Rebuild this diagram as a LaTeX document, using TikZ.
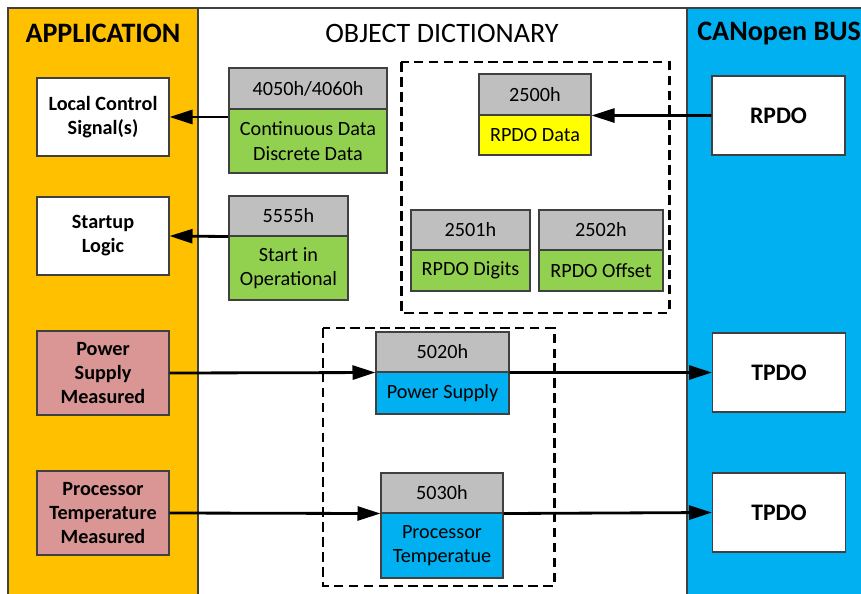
\documentclass[tikz,border=0pt]{standalone}
\usepackage{fontspec}
\setmainfont{Carlito}
\usepackage{xcolor}
\usetikzlibrary{arrows.meta,positioning}

\definecolor{appcol}{HTML}{FFC000}
\definecolor{buscol}{HTML}{00B0F0}
\definecolor{greencol}{HTML}{92D050}
\definecolor{greycol}{HTML}{BFBFBF}
\definecolor{yellowcol}{HTML}{FFFF00}
\definecolor{pinkcol}{HTML}{D99694}
\definecolor{edgecol}{HTML}{404040}

\begin{document}
\begin{tikzpicture}[
    x=0.02cm, y=-0.02cm,
    idx/.style={rectangle, draw=edgecol, line width=0.6pt, fill=greycol, inner sep=1pt, font=\fontsize{11.5}{14}\selectfont},
    entry/.style={rectangle, draw=edgecol, line width=0.6pt, inner sep=1pt, align=center, font=\fontsize{11.5}{14}\selectfont},
    appbox/.style={rectangle, draw=edgecol, line width=0.6pt, minimum width=2.64cm, align=center, font=\bfseries\fontsize{11.5}{13.6}\selectfont},
    pdo/.style={rectangle, draw=edgecol, line width=0.6pt, fill=white, minimum width=2.66cm, minimum height=1.58cm, font=\bfseries\fontsize{13.5}{16}\selectfont},
    title/.style={font=\fontsize{16}{19}\selectfont},
    group/.style={draw, line width=1.7pt, dash pattern=on 5.5pt off 3pt},
    arr/.style={-{Triangle[length=4.6mm,width=2.8mm]}, line width=1.6pt}
]
    \clip (0,0) rectangle (861,594);

    % Panels
    \fill[appcol] (8,8) rectangle (198,600);
    \fill[buscol] (687,8) rectangle (870,600);
    \draw[edgecol, line width=0.6pt] (8,600) -- (8,8) -- (870,8);
    \draw[edgecol, line width=0.6pt] (198,8) -- (198,600);
    \draw[edgecol, line width=0.6pt] (687,8) -- (687,600);

    % Titles
    \node[title, font=\bfseries\fontsize{16}{19}\selectfont] (tapp) at (103,33) {APPLICATION};
    \node[title] (tdict) at (442,33) {OBJECT DICTIONARY};
    \node[title, font=\bfseries\fontsize{16}{19}\selectfont, anchor=west, inner sep=0pt] (tbus) at (697,33) {CANopen BUS};

    % Groups (dashed)
    \draw[group] (401,62) rectangle (669,313);
    \draw[group] (323,328) rectangle (554,586);

    % Application
    \node[appbox, fill=white, minimum height=1.56cm] (appsig) at (103,117) {Local Control\\Signal(s)};
    \node[appbox, fill=white, minimum height=1.56cm] (appstart) at (103,236) {Startup\\Logic};
    \node[appbox, fill=pinkcol, minimum height=1.68cm] (apppow) at (103,373) {Power\\Supply\\Measured};
    \node[appbox, fill=pinkcol, minimum height=1.68cm] (apptemp) at (103,513) {Processor\\Temperature\\Measured};

    % Object dictionary entries
    \node[idx, minimum width=3.16cm, minimum height=0.82cm] (h4050) at (308,88.5) {4050h/4060h};
    \node[entry, fill=greencol, minimum width=3.16cm, minimum height=1.28cm] (d4050) at (308,141) {Continuous Data\\Discrete Data};

    \node[idx, minimum width=2.38cm, minimum height=0.8cm] (h5555) at (288.5,216) {5555h};
    \node[entry, fill=greencol, minimum width=2.38cm, minimum height=1.28cm] (d5555) at (288.5,268) {Start in\\Operational};

    \node[idx, minimum width=2.24cm, minimum height=0.82cm] (h2500) at (535,94.5) {2500h};
    \node[entry, fill=yellowcol, minimum width=2.24cm, minimum height=0.8cm] (d2500) at (535,135) {RPDO Data};

    \node[idx, minimum width=2.38cm, minimum height=0.8cm] (h2501) at (470.5,230) {2501h};
    \node[entry, fill=greencol, minimum width=2.38cm, minimum height=0.82cm] (d2501) at (470.5,270.5) {RPDO Digits};

    \node[idx, minimum width=2.48cm, minimum height=0.8cm] (h2502) at (601,230) {2502h};
    \node[entry, fill=greencol, minimum width=2.48cm, minimum height=0.82cm] (d2502) at (601,270.5) {RPDO Offset};

    \node[idx, minimum width=2.66cm, minimum height=0.8cm] (h5020) at (442.5,352) {5020h};
    \node[entry, fill=buscol, minimum width=2.66cm, minimum height=0.84cm] (d5020) at (442.5,393) {Power Supply};

    \node[idx, minimum width=2.44cm, minimum height=0.8cm] (h5030) at (442,493) {5030h};
    \node[entry, fill=buscol, minimum width=2.44cm, minimum height=1.3cm] (d5030) at (442,545.5) {Processor\\Temperatue};

    % CANopen bus
    \node[pdo] (rpdo) at (778.5,115.5) {RPDO};
    \node[pdo] (tpdo1) at (779,372.5) {TPDO};
    \node[pdo] (tpdo2) at (779,512.5) {TPDO};

    % Arrows
    \draw[arr] (d4050.west |- appsig.east) -- (appsig.east);
    \draw[arr] (h5555.south west) -- (appstart.east);
    \draw[arr] (rpdo.west) -- (h2500.south east);
    \draw[arr] (apppow.east) -- (h5020.south west);
    \draw[arr] (h5020.south east) -- (tpdo1.west);
    \draw[arr] (apptemp.east) -- (h5030.south west);
    \draw[arr] (h5030.south east) -- (tpdo2.west);
\end{tikzpicture}
\end{document}
